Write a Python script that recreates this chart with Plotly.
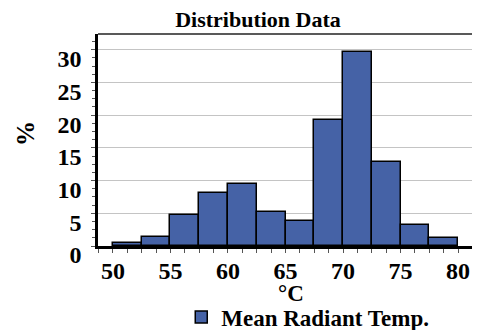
import plotly.graph_objects as go

# histogram bins (left edges, degC) and share of hours in each bin (%)
bin_left = [50, 52.5, 55, 57.5, 60, 62.5, 65, 67.5, 70, 72.5, 75, 77.5]
pct = [0.5, 1.3, 4.7, 8.1, 9.5, 5.2, 3.8, 19.3, 29.7, 12.8, 3.2, 1.2]
bin_width = 2.5
series_name = "Mean Radiant Temp."

x_ticks = [50, 55, 60, 65, 70, 75, 80]
y_ticks = [0, 5, 10, 15, 20, 25, 30]

FONT = "Liberation Serif"
centers = [b + bin_width / 2 for b in bin_left]

# page body has an 8px margin, so the figure is 8px smaller than the window
W, H = 472, 322

fig = go.Figure()
fig.add_trace(go.Bar(
    x=centers, y=pct, width=bin_width, name="<b>" + series_name + "</b>",
    marker=dict(color="#4562A6", line=dict(color="black", width=1.5)),
    showlegend=True,
))

fig.update_layout(
    width=W, height=H,
    margin=dict(l=90, r=7, t=26, b=84, autoexpand=False),
    paper_bgcolor="white", plot_bgcolor="white",
    font=dict(family=FONT, color="black"),
    title=dict(text="<b>Distribution Data</b>", font=dict(size=22, family=FONT),
               x=250 / W, xanchor="center", y=1 - 11 / H, yanchor="middle"),
    bargap=0,
    showlegend=True,
    legend=dict(orientation="h", x=0.222, xanchor="left", y=-0.335, yanchor="middle",
                font=dict(size=23, family=FONT), bgcolor="rgba(0,0,0,0)"),
    xaxis=dict(
        range=[48.7, 81.3], tickvals=x_ticks,
        ticktext=["<b>%d</b>" % v for v in x_ticks],
        tickfont=dict(size=24, family=FONT),
        ticklabelstandoff=-3,
        ticks="outside", ticklen=4, tickcolor="#555", tickwidth=1,
        minor=dict(dtick=1.25, tick0=50, ticks="outside", ticklen=4, tickcolor="#555"),
        showgrid=False, zeroline=False, automargin=False,
        showline=True, linecolor="black", linewidth=2.5,
    ),
    yaxis=dict(
        range=[0, 32.4], tickvals=y_ticks,
        ticktext=["<b>%d</b>" % v for v in y_ticks],
        tickfont=dict(size=24, family=FONT),
        ticklabelshift=9, ticklabelstandoff=5,
        ticks="outside", ticklen=4, tickcolor="#555", tickwidth=1,
        minor=dict(dtick=1.25, tick0=0, ticks="outside", ticklen=3, tickcolor="#555",
                   showgrid=False),
        showgrid=True, gridcolor="#C4C4C4", gridwidth=1.2,
        zeroline=False, automargin=False,
        showline=True, linecolor="black", linewidth=2.5,
    ),
    annotations=[
        dict(text="<b>%</b>", xref="paper", yref="paper",
             x=-0.195, y=0.533, xanchor="center", yanchor="middle",
             textangle=-90, showarrow=False,
             font=dict(size=25, family=FONT)),
        dict(text="<b>°C</b>", xref="paper", yref="paper",
             x=0.515, y=-0.222, xanchor="center", yanchor="middle", showarrow=False,
             font=dict(size=23, family=FONT)),
    ],
    shapes=[
        dict(type="line", xref="paper", yref="paper", x0=0, x1=1, y0=1, y1=1,
             line=dict(color="#222", width=1.3)),
        dict(type="line", xref="paper", yref="paper", x0=1, x1=1, y0=0, y1=1,
             line=dict(color="#222", width=1.3)),
    ],
)

fig.write_html("out.html")
